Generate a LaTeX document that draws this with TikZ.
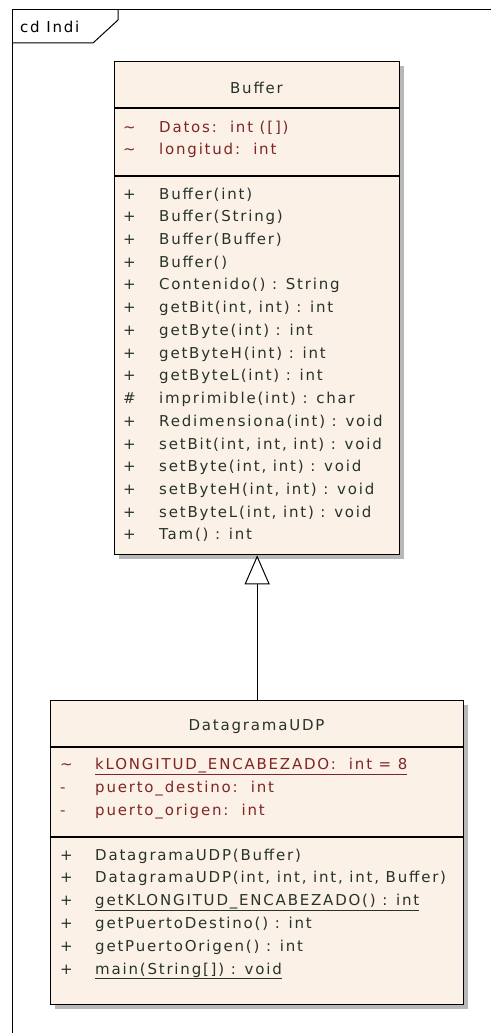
\documentclass[tikz,border=0pt]{standalone}
\usepackage{fontspec}
\newfontfamily\umlfont{DejaVu Sans}[LetterSpace=12]
\usepackage{tikz}
\usetikzlibrary{arrows.meta,shadows}
\definecolor{classfill}{HTML}{FCF1E6}
\definecolor{attrred}{HTML}{7E2626}
\definecolor{opgreen}{HTML}{26332C}

\begin{document}
\begin{tikzpicture}[x=1pt,y=-1pt,font=\umlfont\fontsize{15}{17}\selectfont,
		classbox/.style={draw, line width=1.3pt, fill=classfill, anchor=north west, inner sep=0pt,
			drop shadow={shadow xshift=4pt, shadow yshift=-4pt, fill=black!28, opacity=1}},
		row/.style={anchor=base west, inner sep=0pt}]
	\useasboundingbox (0,0) rectangle (491,1033);
	\draw[line width=1pt] (12,1033)--(12,10)--(491,10);
	\draw[line width=1pt] (12,43)--(93,43)--(118,20)--(118,10);
	\node[anchor=west, inner sep=0pt] (frame) at (20,27) {cd Indi};

	\node[classbox, minimum width=285pt, minimum height=493pt] (buffer) at (114,61) {};
	\node[opgreen] (bufname) at (256.5,88) {Buffer};
	\draw[line width=1.3pt] (114,108)--(399,108);
	\draw[line width=1.3pt] (114,176)--(399,176);
	\foreach \s/\t [count=\i from 0] in {\textasciitilde/{Datos:\ \ int ([])}, \textasciitilde/{longitud:\ \ int}}{
		\node[row, attrred] at (123,{132+22.7*\i}) {\s};
		\node[row, attrred] at (159,{132+22.7*\i}) {\t};
	}
	\foreach \s/\t [count=\i from 0] in {+/{Buffer(int)}, +/{Buffer(String)}, +/{Buffer(Buffer)}, +/{Buffer()},
		+/{Contenido() : String}, +/{getBit(int, int) : int}, +/{getByte(int) : int}, +/{getByteH(int) : int},
		+/{getByteL(int) : int}, \#/{imprimible(int) : char}, +/{Redimensiona(int) : void},
		+/{setBit(int, int, int) : void}, +/{setByte(int, int) : void}, +/{setByteH(int, int) : void},
		+/{setByteL(int, int) : void}, +/{Tam() : int}}{
		\node[row, opgreen] at (123,{199+22.73*\i}) {\s};
		\node[row, opgreen] at (159,{199+22.73*\i}) {\t};
	}

	\node[classbox, minimum width=413pt, minimum height=304pt] (udp) at (50,700) {};
	\node[opgreen] (udpname) at (256.5,727) {DatagramaUDP};
	\draw[line width=1.3pt] (50,747)--(463,747);
	\draw[line width=1.3pt] (50,837)--(463,837);
	\foreach \s/\t [count=\i from 0] in {\textasciitilde/{\underline{kLONGITUD\_ENCABEZADO:\ \ int = 8}},
		-/{puerto\_destino:\ \ int}, -/{puerto\_origen:\ \ int}}{
		\node[row, attrred] at (60,{769+23*\i}) {\s};
		\node[row, attrred] at (95,{769+23*\i}) {\t};
	}
	\foreach \s/\t [count=\i from 0] in {+/{DatagramaUDP(Buffer)}, +/{DatagramaUDP(int, int, int, int, Buffer)},
		+/{\underline{getKLONGITUD\_ENCABEZADO() : int}}, +/{getPuertoDestino() : int},
		+/{getPuertoOrigen() : int}, +/{\underline{main(String[]) : void}}}{
		\node[row, opgreen] at (60,{860+22.8*\i}) {\s};
		\node[row, opgreen] at (95,{860+22.8*\i}) {\t};
	}

	\draw[-{Triangle[open, length=29pt, width=25pt]}, line width=1pt] (udp.north)--(buffer.south);
\end{tikzpicture}
\end{document}
